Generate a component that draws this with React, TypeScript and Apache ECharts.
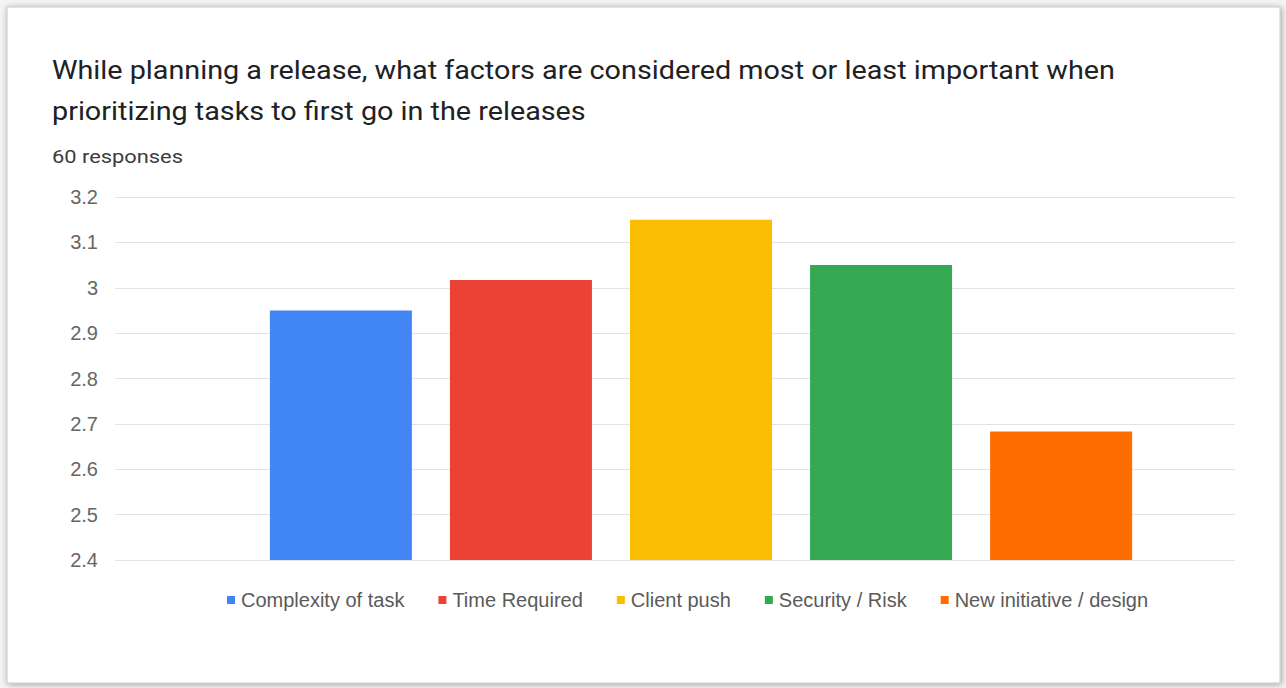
import React, { useEffect, useRef } from "react";
import * as echarts from "echarts";

// Survey question and response count
const questionLines = [
  "While planning a release, what factors are considered most or least important when",
  "prioritizing tasks to first go in the releases",
];
const responseNote = "60 responses";

// One bar per factor (average score)
const factors = [
  "Complexity of task",
  "Time Required",
  "Client push",
  "Security / Risk",
  "New initiative / design",
];
const averages = [2.95, 3.017, 3.15, 3.05, 2.683];
const factorColors = ["#4285F4", "#EA4335", "#FBBC04", "#34A853", "#FF6D01"];

// Value axis range
const yMin = 2.4;
const yMax = 3.2;
const yStep = 0.1;

const W = 1286;
const H = 688;

export default function App() {
  const ref = useRef<HTMLDivElement>(null);

  useEffect(() => {
    if (!ref.current) return;
    const chart = echarts.init(ref.current, null, { renderer: "svg" });

    const plotTop = 197;
    const plotBottom = H - 560;
    const plotRight = W - 1235;

    // Heading texts are set in a slightly widened Roboto
    const heading = (text: string, y: number, size: number, color: string) => ({
      type: "text",
      x: 52,
      y,
      scaleX: 1.15,
      style: {
        text,
        x: 0,
        y: 0,
        fill: color,
        font: `${size}px Roboto`,
        textVerticalAlign: "middle",
        textAlign: "left",
      },
      z: 10,
    });

    const option: any = {
      animation: false,
      backgroundColor: "#f4f4f4",
      graphic: [
        {
          type: "rect",
          shape: { x: 7, y: 7, width: 1273, height: 676 },
          style: {
            fill: "#ffffff",
            stroke: "#c8c8c8",
            lineWidth: 1,
            shadowBlur: 6,
            shadowColor: "rgba(0,0,0,0.35)",
            shadowOffsetX: 1,
            shadowOffsetY: 1,
          },
          z: -10,
        },
        heading(questionLines[0], 71, 25, "#202124"),
        heading(questionLines[1], 112, 25, "#202124"),
        heading(responseNote, 157, 19, "#3c3c3c"),
      ],
      legend: {
        data: factors,
        left: 227,
        top: 590,
        padding: 0,
        itemWidth: 8,
        itemHeight: 8,
        itemGap: 34,
        icon: "rect",
        textStyle: {
          fontFamily: "Liberation Sans",
          fontSize: 20,
          color: "#5a5a5a",
          padding: [0, 0, 0, 1],
        },
      },
      grid: [
        { left: 115, right: plotRight, top: plotTop, bottom: plotBottom },
        { left: 167, right: plotRight, top: plotTop, bottom: plotBottom },
      ],
      xAxis: [
        { type: "category", gridIndex: 0, data: [""], show: false },
        { type: "category", gridIndex: 1, data: [""], show: false },
      ],
      yAxis: [
        {
          type: "value",
          gridIndex: 0,
          min: yMin,
          max: yMax,
          interval: yStep,
          axisLine: { show: false },
          axisTick: { show: false },
          axisLabel: {
            margin: 17,
            fontFamily: "Liberation Sans",
            fontSize: 20,
            color: "#666666",
            formatter: (v: number) => String(parseFloat(v.toFixed(1))),
          },
          splitLine: { lineStyle: { color: "#e3e3e3", width: 1 } },
        },
        {
          type: "value",
          gridIndex: 1,
          min: yMin,
          max: yMax,
          interval: yStep,
          show: false,
          splitLine: { show: false },
        },
      ],
      series: factors.map((name, i) => ({
        type: "bar",
        name,
        xAxisIndex: 1,
        yAxisIndex: 1,
        data: [averages[i]],
        barWidth: 142,
        barGap: "26.8%",
        itemStyle: { color: factorColors[i] },
      })),
    };

    chart.setOption(option);
    return () => chart.dispose();
  }, []);

  return (
    <div
      ref={ref}
      style={{ position: "fixed", left: 0, top: 0, width: W, height: H }}
    />
  );
}
